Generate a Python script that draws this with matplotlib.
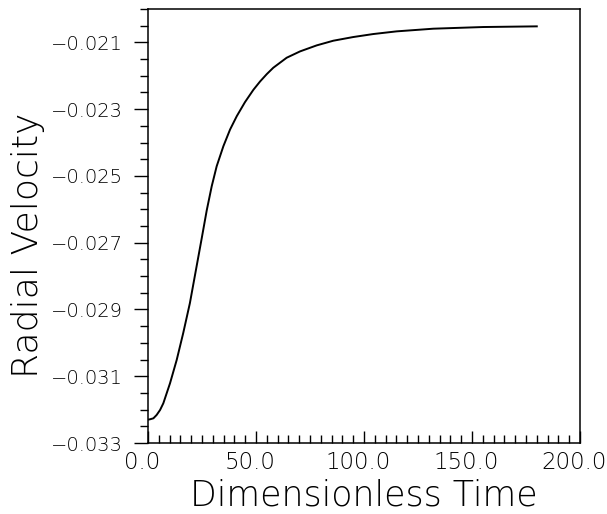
import numpy as np
import matplotlib.pyplot as plt
from matplotlib.ticker import MultipleLocator, FuncFormatter
from matplotlib.transforms import ScaledTranslation

plt.rcParams['font.family'] = ['DejaVu Sans']
plt.rcParams['font.weight'] = 'light'

# curve
time = [0.0, 0.9, 2.5, 4.0, 5.6, 7.1, 10.2, 13.3, 16.3, 19.4, 22.5, 24.9, 27.2,
        29.5, 31.8, 34.9, 38.0, 41.1, 44.9, 48.8, 51.9, 55.0, 58.0, 64.2, 70.4,
        78.1, 85.8, 95.0, 104.3, 115.1, 132.1, 155.2, 180.0]
velocity = [-0.0323, -0.03229, -0.03226, -0.03216, -0.03201, -0.03181, -0.03121,
            -0.03051, -0.02971, -0.02881, -0.02771, -0.02686, -0.02603, -0.02531,
            -0.02471, -0.02411, -0.02361, -0.02321, -0.02279, -0.02242, -0.02217,
            -0.02195, -0.02176, -0.02146, -0.02127, -0.02109, -0.02095, -0.02084,
            -0.02075, -0.02067, -0.02059, -0.02054, -0.02052]
yticks = [-0.033, -0.031, -0.029, -0.027, -0.025, -0.023, -0.021]

fig = plt.figure(figsize=(6.07, 5.14), dpi=100)
ax = fig.add_axes([0.2438, 0.1381, 0.7117, 0.8444])

ax.plot(time, velocity, color='black', linewidth=1.4, solid_joinstyle='round')

ax.set_xlim(0, 200)
ax.set_ylim(-0.033, -0.020)

ax.xaxis.set_major_locator(MultipleLocator(50))
ax.xaxis.set_minor_locator(MultipleLocator(5))
ax.xaxis.set_major_formatter(FuncFormatter(lambda v, p: '%.1f' % v))
ax.yaxis.set_minor_locator(MultipleLocator(0.0005))
ax.set_yticks(yticks)
ax.yaxis.set_major_formatter(FuncFormatter(lambda v, p: ('%.3f' % v).replace('-', '\u2212')))

ax.tick_params(axis='x', which='major', direction='in', length=9, width=1, labelsize=16.5, pad=6)
ax.tick_params(axis='x', which='minor', direction='in', length=6, width=1)
ax.tick_params(axis='y', which='major', direction='out', length=10, width=1, labelsize=14, pad=8)
ax.tick_params(axis='y', which='minor', direction='out', length=6, width=1)

# x tick labels sit a little left of their ticks
shift = ScaledTranslation(-4 / 72, 0, fig.dpi_scale_trans)
for lab in ax.get_xticklabels():
    lab.set_transform(lab.get_transform() + shift)

for s in ax.spines.values():
    s.set_linewidth(1.1)

ax.set_xlabel('Dimensionless Time', fontsize=25, fontweight='light', labelpad=3)
ax.set_ylabel('Radial Velocity', fontsize=26, fontweight='light')
ax.yaxis.set_label_coords(-0.238, 0.456)

plt.savefig('out.png')
